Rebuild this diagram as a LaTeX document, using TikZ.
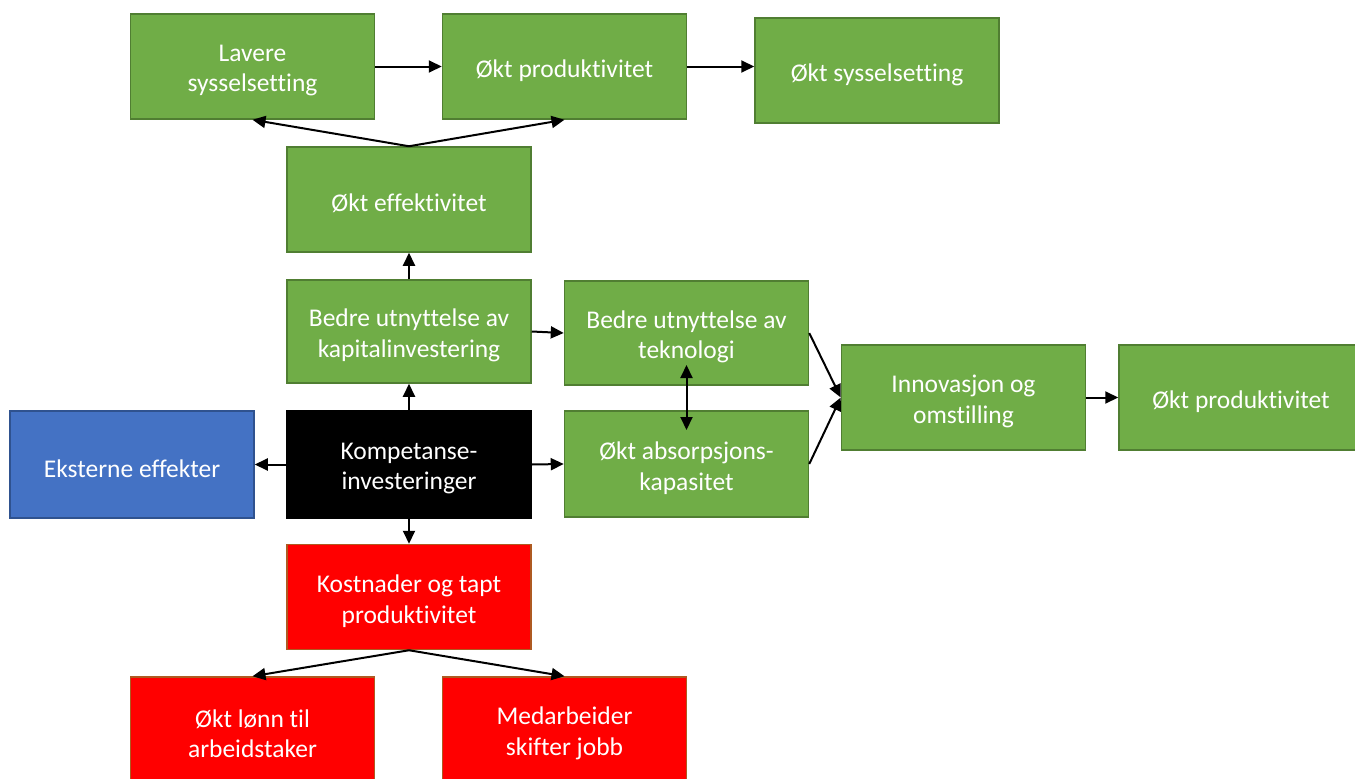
\documentclass[tikz,border=0pt]{standalone}
\usepackage{fontspec}
\setmainfont{Carlito}[Ligatures={NoCommon}]
\usetikzlibrary{arrows.meta}
\definecolor{gfill}{HTML}{70AD47}
\definecolor{gline}{HTML}{507E32}
\definecolor{bfill}{HTML}{4472C4}
\definecolor{bline}{HTML}{2F528F}
\definecolor{rfill}{HTML}{FF0000}
\definecolor{rline}{HTML}{AE5A21}
\tikzset{
  tx/.style={text=white, align=center, inner sep=0pt, yshift=-4pt,
    font=\fontsize{25.5}{30.5}\selectfont},
  box/.style={rectangle, draw, line width=1.5pt,
    minimum width=244pt, minimum height=105pt, inner sep=0pt,
    label={[tx]center:{#1}}},
  gbox/.style={box={#1}, fill=gfill, draw=gline},
  bbox/.style={box={#1}, fill=bfill, draw=bline},
  kbox/.style={box={#1}, fill=black, draw=black},
  rbox/.style={box={#1}, fill=rfill, draw=rline},
  arr/.style={line width=2pt, -{Triangle[length=13pt,width=12pt]}},
  darr/.style={line width=2pt, {Triangle[length=13pt,width=12pt]}-{Triangle[length=13pt,width=12pt]}}
}
\begin{document}
\begin{tikzpicture}[x=1pt,y=-1pt]
\path[use as bounding box] (0,0) rectangle (1355,779);
\clip (0,0) rectangle (1355,779);
\node[gbox={Lavere\\sysselsetting}] (lav) at (252.5,66.5) {};
\node[gbox={Økt produktivitet}] (op1) at (564.5,66.5) {};
\node[gbox={Økt sysselsetting}] (os) at (877,70.5) {};
\node[gbox={Økt effektivitet}] (eff) at (409,199.5) {};
\node[gbox={Bedre utnyttelse av\\kapitalinvestering}, minimum height=103pt] (kap) at (409,331.5) {};
\node[kbox={Kompetanse-\\investeringer}, minimum height=107pt] (kom) at (409,464.5) {};
\node[bbox={Eksterne effekter}, minimum height=107pt] (eks) at (132,464.5) {};
\node[gbox={Bedre utnyttelse av\\teknologi}, minimum height=104pt] (tek) at (686.5,333) {};
\node[gbox={Økt absorpsjons-\\kapasitet}, minimum height=106pt] (abs) at (686.5,464) {};
\node[gbox={Innovasjon og\\omstilling}] (inn) at (963.5,397.5) {};
\node[gbox={Økt produktivitet}] (op2) at (1241,397.5) {};
\node[rbox={Kostnader og tapt\\produktivitet}] (kos) at (409,597) {};
\node[rbox={Økt lønn til\\arbeidstaker}] (lon) at (252.5,729.5) {};
\node[rbox={Medarbeider\\skifter jobb}] (med) at (564.5,729.5) {};

\draw[arr] (lav.east) -- (op1.west);
\draw[arr] (op1.east) -- (os.west |- op1.east);
\draw[arr] (eff.north) -- (lav.south);
\draw[arr] (eff.north) -- (op1.south);
\draw[arr] (kap.north) -- (eff.south);
\draw[arr] (kom.north) -- (kap.south);
\draw[arr] (kom.west) -- (eks.east);
\draw[arr] (kom.east) -- (abs.west);
\draw[arr] (kap.east) -- (tek.west);
\draw[darr] ([yshift=-32pt]tek.center) -- ([yshift=34pt]abs.center);
\draw[arr] (tek.east) -- (inn.west);
\draw[arr] (abs.east) -- (inn.west);
\draw[arr] (inn.east) -- (op2.west);
\draw[arr] (kom.south) -- (kos.north);
\draw[arr] (kos.south) -- (lon.north);
\draw[arr] (kos.south) -- (med.north);
\end{tikzpicture}
\end{document}
